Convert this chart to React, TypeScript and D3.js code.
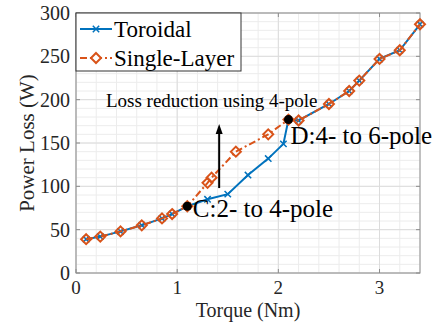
import React from "react";
import * as d3 from "d3";

const torqueSingle = [0.1, 0.24, 0.44, 0.65, 0.85, 0.95, 1.1, 1.3, 1.34, 1.58, 1.9, 2.1, 2.2, 2.5, 2.7, 2.8, 3.0, 3.2, 3.4];
const lossSingle = [39, 42, 48, 55, 63, 68, 77, 104, 110, 140, 160, 177, 176, 195, 210, 222, 247, 257, 287];
const torqueToroidal = [0.1, 0.24, 0.44, 0.65, 0.85, 0.95, 1.1, 1.3, 1.5, 1.7, 1.9, 2.05, 2.1, 2.2, 2.5, 2.7, 2.8, 3.0, 3.2, 3.4];
const lossToroidal = [39, 42, 48, 55, 63, 68, 77, 85, 91, 113, 132, 149, 177, 176, 195, 210, 222, 247, 257, 287];
const xTicks = [0, 1, 2, 3];
const yTicks = [0, 50, 100, 150, 200, 250, 300];
const seriesNames = ["Toroidal", "Single-Layer"];
const pointC = [1.1, 77];
const pointD = [2.1, 177];

const W = 438, H = 328;
const L = 76, R = 420, T = 13, B = 273;
const BLUE = "#0072BD";
const ORANGE = "#D95319";
const FONT = "'Liberation Serif', 'Times New Roman', serif";

export default function App() {
  const x = d3.scaleLinear().domain([0, 3.4]).range([L, R]);
  const y = d3.scaleLinear().domain([0, 300]).range([B, T]);
  const xMinor = d3.range(0, 3.41, 0.2);
  const yMinor = d3.range(0, 301, 10);
  const line = d3.line<number[]>().x(d => x(d[0])).y(d => y(d[1]));
  const tor = torqueToroidal.map((t, i) => [t, lossToroidal[i]]);
  const sgl = torqueSingle.map((t, i) => [t, lossSingle[i]]);
  const diamond = (cx: number, cy: number, r = 5) =>
    `M${cx},${cy - r}L${cx + r},${cy}L${cx},${cy + r}L${cx - r},${cy}Z`;
  const cross = (cx: number, cy: number, r = 3.2) =>
    `M${cx - r},${cy - r}L${cx + r},${cy + r}M${cx - r},${cy + r}L${cx + r},${cy - r}`;
  const ax = x(1.415);
  return (
    <svg width={W} height={H} style={{ position: "absolute", left: 0, top: 0, background: "#fff" }} fontFamily={FONT}>
      <rect x={L} y={T} width={R - L} height={B - T} fill="#fff" />
      {xMinor.map((v, i) => (
        <line key={"xm" + i} x1={x(v)} x2={x(v)} y1={T} y2={B} stroke="#ececec" strokeWidth={1} />
      ))}
      {yMinor.map((v, i) => (
        <line key={"ym" + i} x1={L} x2={R} y1={y(v)} y2={y(v)} stroke="#ececec" strokeWidth={1} />
      ))}
      {xTicks.map((v, i) => (
        <line key={"xg" + i} x1={x(v)} x2={x(v)} y1={T} y2={B} stroke="#dcdcdc" strokeWidth={1} />
      ))}
      {yTicks.map((v, i) => (
        <line key={"yg" + i} x1={L} x2={R} y1={y(v)} y2={y(v)} stroke="#dcdcdc" strokeWidth={1} />
      ))}
      <rect x={L} y={T} width={R - L} height={B - T} fill="none" stroke="#8c8c8c" strokeWidth={1} />
      {xTicks.map((v, i) => (
        <g key={"xt" + i}>
          <line x1={x(v)} x2={x(v)} y1={B} y2={B - 4} stroke="#8c8c8c" />
          <line x1={x(v)} x2={x(v)} y1={T} y2={T + 4} stroke="#8c8c8c" />
          <text x={x(v)} y={B + 21} textAnchor="middle" fontSize={19} fill="#262626">{v}</text>
        </g>
      ))}
      {yTicks.map((v, i) => (
        <g key={"yt" + i}>
          <line x1={L} x2={L + 4} y1={y(v)} y2={y(v)} stroke="#8c8c8c" />
          <line x1={R} x2={R - 4} y1={y(v)} y2={y(v)} stroke="#8c8c8c" />
          <text x={L - 6} y={y(v) + 7} textAnchor="end" fontSize={20} fill="#262626">{v}</text>
        </g>
      ))}
      <text x={(L + R) / 2} y={317} textAnchor="middle" fontSize={20} fill="#262626">Torque (Nm)</text>
      <text transform={`translate(34,${(T + B) / 2}) rotate(-90)`} textAnchor="middle" fontSize={21} fill="#262626">Power Loss (W)</text>

      <path d={line(tor) || ""} fill="none" stroke={BLUE} strokeWidth={2} />
      {tor.map((d, i) => (
        <path key={"tm" + i} d={cross(x(d[0]), y(d[1]))} stroke={BLUE} strokeWidth={1.5} fill="none" />
      ))}
      <path d={line(sgl) || ""} fill="none" stroke={ORANGE} strokeWidth={2} strokeDasharray="7,3,2,3" />
      {sgl.map((d, i) => (
        <path key={"sm" + i} d={diamond(x(d[0]), y(d[1]))} stroke={ORANGE} strokeWidth={2} fill="none" />
      ))}

      <circle cx={x(pointC[0])} cy={y(pointC[1])} r={4.5} fill="#000" />
      <circle cx={x(pointD[0])} cy={y(pointD[1])} r={4.5} fill="#000" />
      <text x={x(1.155)} y={y(64.6)} fontSize={25} fill="#000">C:2- to 4-pole</text>
      <text x={x(2.12)} y={y(148.8)} fontSize={25} fill="#000">D:4- to 6-pole</text>
      <text x={x(0.296)} y={y(191)} fontSize={19} fill="#000">Loss reduction using 4-pole</text>
      <line x1={ax} x2={ax} y1={y(98)} y2={y(172) + 8} stroke="#000" strokeWidth={2} />
      <path d={`M${ax},${y(172)}L${ax - 3.5},${y(172) + 10}L${ax + 3.5},${y(172) + 10}Z`} fill="#000" />

      <rect x={L} y={T} width={165} height={58} fill="#fff" stroke="#333" strokeWidth={1} />
      <line x1={80} x2={112} y1={T + 16} y2={T + 16} stroke={BLUE} strokeWidth={2} />
      <path d={cross(96, T + 16)} stroke={BLUE} strokeWidth={1.5} />
      <text x={114} y={T + 24} fontSize={23} fill="#000">{seriesNames[0]}</text>
      <line x1={80} x2={112} y1={T + 45} y2={T + 45} stroke={ORANGE} strokeWidth={2} strokeDasharray="7,3,2,3" />
      <path d={diamond(96, T + 45)} stroke={ORANGE} strokeWidth={2} fill="#fff" />
      <text x={114} y={T + 53} fontSize={23} fill="#000">{seriesNames[1]}</text>
    </svg>
  );
}
